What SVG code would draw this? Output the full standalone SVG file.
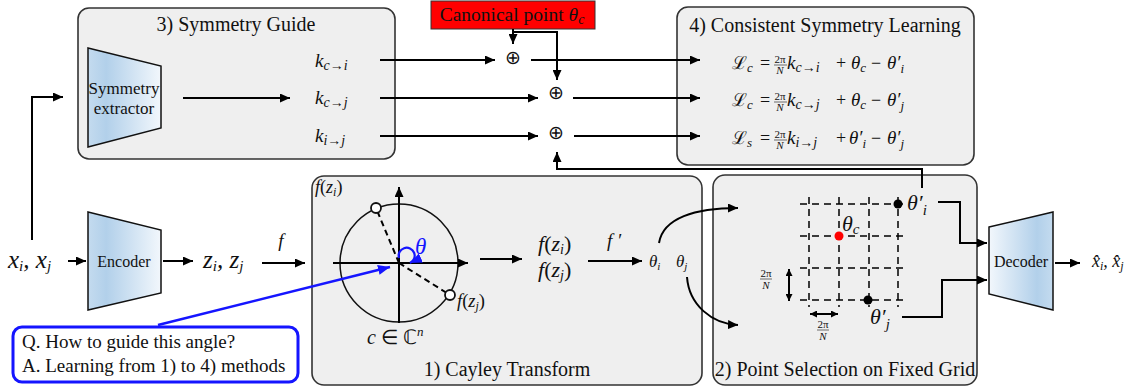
<svg xmlns="http://www.w3.org/2000/svg" width="1133" height="390" viewBox="0 0 1133 390">
<defs>
<marker id="ah" markerUnits="userSpaceOnUse" markerWidth="10" markerHeight="9" refX="10" refY="4.5" orient="auto-start-reverse"><path d="M0,0 L10,4.5 L0,9 z" fill="#000"/></marker>
<marker id="ahb" markerUnits="userSpaceOnUse" markerWidth="12" markerHeight="10" refX="12" refY="5" orient="auto"><path d="M0,0 L12,5 L0,10 z" fill="#1515ff"/></marker>
<marker id="ahs" markerUnits="userSpaceOnUse" markerWidth="7" markerHeight="7" refX="7" refY="3.5" orient="auto-start-reverse"><path d="M0,0 L7,3.5 L0,7 z" fill="#000"/></marker>
<linearGradient id="gEnc" x1="0" y1="0" x2="1" y2="0"><stop offset="0" stop-color="#c4dbef"/><stop offset="0.25" stop-color="#b2d0ea"/><stop offset="1" stop-color="#f2f7fc"/></linearGradient>
<linearGradient id="gDec" x1="0" y1="0" x2="1" y2="0"><stop offset="0" stop-color="#f2f7fc"/><stop offset="0.75" stop-color="#b2d0ea"/><stop offset="1" stop-color="#c4dbef"/></linearGradient>
</defs>
<style>
text{font-family:'Liberation Serif',serif;fill:#111}
.box{fill:#efefef;stroke:#333;stroke-width:1.6}
.trap{stroke:#111;stroke-width:1.5}
.title{font-size:20px;text-anchor:middle}
.i{font-style:italic}
.frac{font-size:11px;text-anchor:middle}
</style>
<rect width="1133" height="390" fill="#fff"/>

<g id="symmetry-guide">
<rect class="box" x="78" y="8" width="317" height="151" rx="11"/>
<text class="title" x="236" y="31">3) Symmetry Guide</text>
<polygon class="trap" points="88,48 161,66 161,128 88,147" fill="url(#gEnc)"/>
<text x="124" y="94" font-size="17" text-anchor="middle">Symmetry</text>
<text x="124" y="114" font-size="17" text-anchor="middle">extractor</text>
<text class="i" y="67" font-size="19"><tspan x="315">k</tspan><tspan font-size="14" dy="3">c→i</tspan></text>
<text class="i" y="104" font-size="19"><tspan x="315">k</tspan><tspan font-size="14" dy="3">c→j</tspan></text>
<text class="i" y="142" font-size="19"><tspan x="315">k</tspan><tspan font-size="14" dy="3">i→j</tspan></text>
</g>

<g id="canonical-point">
<rect x="431" y="1" width="164" height="28" fill="#ff0000" stroke="#333" stroke-width="1"/>
<text x="512" y="21" font-size="19.5" text-anchor="middle">Canonical point <tspan class="i">θ</tspan><tspan class="i" font-size="14" dy="3">c</tspan></text>
</g>

<g id="adders">
<text font-size="19" text-anchor="middle" x="513" y="64">⊕</text>
<text font-size="19" text-anchor="middle" x="556" y="99">⊕</text>
<text font-size="19" text-anchor="middle" x="556" y="139">⊕</text>
</g>

<g id="consistent-learning">
<rect class="box" x="677" y="7" width="297" height="158" rx="11"/>
<text class="title" x="825" y="32" font-size="21">4) Consistent Symmetry Learning</text>
<g id="eq1">
<text y="69" font-size="18"><tspan x="732">ℒ</tspan><tspan class="i" font-size="13" dy="3">c</tspan><tspan x="760" dy="-3">=</tspan><tspan x="787" class="i" font-size="19">k</tspan><tspan class="i" font-size="14" dy="3">c→i</tspan><tspan x="836" dy="-3">+</tspan><tspan x="851" class="i" font-size="19">θ</tspan><tspan class="i" font-size="13" dy="3">c</tspan><tspan x="871" dy="-3">−</tspan><tspan x="887" class="i" font-size="19">θ′</tspan><tspan class="i" font-size="13" dy="4">i</tspan></text>
<text class="frac" x="780" y="63">2π</text><line x1="774" y1="65" x2="787" y2="65" stroke="#111" stroke-width="0.6"/><text class="frac i" x="780" y="74">N</text>
</g>
<g id="eq2">
<text y="106" font-size="18"><tspan x="732">ℒ</tspan><tspan class="i" font-size="13" dy="3">c</tspan><tspan x="760" dy="-3">=</tspan><tspan x="787" class="i" font-size="19">k</tspan><tspan class="i" font-size="14" dy="3">c→j</tspan><tspan x="836" dy="-3">+</tspan><tspan x="851" class="i" font-size="19">θ</tspan><tspan class="i" font-size="13" dy="3">c</tspan><tspan x="871" dy="-3">−</tspan><tspan x="887" class="i" font-size="19">θ′</tspan><tspan class="i" font-size="13" dy="4">j</tspan></text>
<text class="frac" x="780" y="100">2π</text><line x1="774" y1="102" x2="787" y2="102" stroke="#111" stroke-width="0.6"/><text class="frac i" x="780" y="111">N</text>
</g>
<g id="eq3">
<text y="144" font-size="18"><tspan x="732">ℒ</tspan><tspan class="i" font-size="13" dy="3">s</tspan><tspan x="760" dy="-3">=</tspan><tspan x="787" class="i" font-size="19">k</tspan><tspan class="i" font-size="14" dy="3">i→j</tspan><tspan x="836" dy="-3">+</tspan><tspan x="849" class="i" font-size="19">θ′</tspan><tspan class="i" font-size="13" dy="4">i</tspan><tspan x="871" dy="-4">−</tspan><tspan x="887" class="i" font-size="19">θ′</tspan><tspan class="i" font-size="13" dy="4">j</tspan></text>
<text class="frac" x="780" y="138">2π</text><line x1="774" y1="140" x2="787" y2="140" stroke="#111" stroke-width="0.6"/><text class="frac i" x="780" y="149">N</text>
</g>
</g>

<g id="inputs">
<text class="i" x="8" y="268" font-size="25">x<tspan font-size="15" dy="3">i</tspan><tspan dy="-3">, x</tspan><tspan font-size="15" dy="3">j</tspan></text>
</g>

<g id="encoder">
<polygon class="trap" points="88,212 161,230 161,293 88,310" fill="url(#gEnc)"/>
<text x="124" y="267" font-size="16" text-anchor="middle">Encoder</text>
</g>

<g id="latent">
<text class="i" x="203" y="268" font-size="25">z<tspan font-size="15" dy="3">i</tspan><tspan dy="-3">, z</tspan><tspan font-size="15" dy="3">j</tspan></text>
<text class="i" x="281" y="247" font-size="19" text-anchor="middle">f</text>
</g>

<g id="cayley">
<rect class="box" x="312" y="176" width="390" height="209" rx="12"/>
<text class="title" x="507" y="376">1) Cayley Transform</text>
<text x="315" y="193" font-size="18"><tspan class="i">f</tspan>(<tspan class="i">z</tspan><tspan class="i" font-size="12" dy="3">i</tspan><tspan dy="-3">)</tspan></text>
<circle cx="399" cy="263" r="59" fill="none" stroke="#111" stroke-width="1.5"/>
<g fill="none" stroke="#000" stroke-width="2" marker-end="url(#ah)">
<line x1="333" y1="263" x2="468" y2="263"/>
<line x1="399" y1="323" x2="399" y2="187"/>
</g>
<g fill="none" stroke="#000" stroke-width="2" stroke-dasharray="6 4">
<line x1="399" y1="263" x2="376" y2="208"/>
<line x1="399" y1="263" x2="450" y2="295"/>
</g>
<circle cx="376" cy="208" r="5" fill="#fff" stroke="#111" stroke-width="1.8"/>
<circle cx="450" cy="295" r="5" fill="#fff" stroke="#111" stroke-width="1.8"/>
<path d="M399,258 A8,8 0 1 1 410,263" fill="none" stroke="#1515ff" stroke-width="2.2" marker-end="url(#ahb)"/>
<text class="i" x="415" y="254" font-size="23" style="fill:#1515ff">θ</text>
<text x="457" y="307" font-size="18.5"><tspan class="i">f</tspan>(<tspan class="i">z</tspan><tspan class="i" font-size="12" dy="3">j</tspan><tspan dy="-3">)</tspan></text>
<text x="367" y="344" font-size="20"><tspan class="i">c</tspan> ∈ ℂ<tspan class="i" font-size="13" dy="-8">n</tspan></text>
<text x="538" y="251" font-size="22"><tspan class="i">f</tspan>(<tspan class="i">z</tspan><tspan class="i" font-size="14" dy="3">i</tspan><tspan dy="-3">)</tspan></text>
<text x="538" y="277" font-size="22"><tspan class="i">f</tspan>(<tspan class="i">z</tspan><tspan class="i" font-size="14" dy="3">j</tspan><tspan dy="-3">)</tspan></text>
<text class="i" x="607" y="247" font-size="19">f ′</text>
<text class="i" x="649" y="267" font-size="17">θ<tspan font-size="11" dy="3">i</tspan></text>
<text class="i" x="676" y="267" font-size="17">θ<tspan font-size="11" dy="3">j</tspan></text>
</g>

<g id="point-selection">
<rect class="box" x="713" y="175" width="264" height="210" rx="12"/>
<text class="title" x="845" y="376" font-size="19.5">2) Point Selection on Fixed Grid</text>
<g id="grid" fill="none" stroke="#000" stroke-width="1.5" stroke-dasharray="7 5">
<line x1="800" y1="204" x2="903" y2="204"/>
<line x1="800" y1="236" x2="903" y2="236"/>
<line x1="800" y1="268" x2="903" y2="268"/>
<line x1="800" y1="300" x2="903" y2="300"/>
<line x1="809" y1="197" x2="809" y2="307"/>
<line x1="839" y1="197" x2="839" y2="307"/>
<line x1="869" y1="197" x2="869" y2="307"/>
<line x1="898" y1="197" x2="898" y2="307"/>
</g>
<circle cx="839" cy="236" r="4.5" fill="#ff0000"/>
<circle cx="898" cy="204" r="4.5" fill="#000"/>
<circle cx="868" cy="300" r="4.5" fill="#000"/>
<text class="i" x="842" y="231" font-size="22">θ<tspan font-size="15" dy="3">c</tspan></text>
<text class="i" x="907" y="210" font-size="22">θ′<tspan font-size="15" dy="5">i</tspan></text>
<text class="i" x="870" y="324" font-size="22">θ′<tspan font-size="15" dy="5">j</tspan></text>
<line x1="789" y1="269" x2="789" y2="301" stroke="#000" stroke-width="2" marker-start="url(#ahs)" marker-end="url(#ahs)"/>
<line x1="810" y1="314" x2="838" y2="314" stroke="#000" stroke-width="2" marker-start="url(#ahs)" marker-end="url(#ahs)"/>
<text class="frac" x="766" y="277" font-size="10">2π</text><line x1="760" y1="279" x2="772" y2="279" stroke="#111" stroke-width="0.6"/><text class="frac i" x="766" y="289" font-size="10">N</text>
<text class="frac" x="823" y="328" font-size="10">2π</text><line x1="817" y1="330" x2="829" y2="330" stroke="#111" stroke-width="0.6"/><text class="frac i" x="823" y="340" font-size="10">N</text>
</g>

<g id="decoder">
<polygon class="trap" points="989,227 1053,212 1053,310 989,294" fill="url(#gDec)"/>
<text x="1021" y="267" font-size="16" text-anchor="middle">Decoder</text>
</g>

<g id="outputs">
<text class="i" x="1092" y="267" font-size="18">x̂<tspan font-size="12" dy="3">i</tspan><tspan dy="-3">, x̂</tspan><tspan font-size="12" dy="3">j</tspan></text>
</g>

<g id="question">
<rect x="13" y="327" width="285" height="55" rx="9" fill="#fff" stroke="#1515ff" stroke-width="3"/>
<text x="22" y="348" font-size="19">Q. How to guide this angle?</text>
<text x="22" y="372" font-size="19">A. Learning from 1) to 4) methods</text>
</g>

<g id="connectors" fill="none" stroke="#000" stroke-width="2" marker-end="url(#ah)">
<path d="M32,240 V97 H63"/>
<line x1="183" y1="98" x2="290" y2="98"/>
<line x1="380" y1="60" x2="495" y2="60"/>
<line x1="380" y1="98" x2="538" y2="98"/>
<line x1="380" y1="136" x2="538" y2="136"/>
<line x1="531" y1="60" x2="700" y2="60"/>
<line x1="573" y1="98" x2="700" y2="98"/>
<line x1="574" y1="136" x2="700" y2="136"/>
<line x1="513" y1="29" x2="513" y2="44"/>
<path d="M513,32 H557 V80"/>
<path d="M922,188 V169 H557 V152"/>
<line x1="68" y1="261" x2="86" y2="261"/>
<line x1="163" y1="261" x2="193" y2="261"/>
<line x1="262" y1="263" x2="305" y2="263"/>
<line x1="480" y1="259" x2="522" y2="259"/>
<line x1="588" y1="261" x2="642" y2="261"/>
<path d="M659,243 C663,218 695,208 738,208"/>
<path d="M687,277 C689,305 712,324 738,325"/>
<path d="M938,202 H960 V243 H987"/>
<path d="M902,317 H942 V280 H987"/>
<line x1="1055" y1="263" x2="1080" y2="263"/>
<line x1="158" y1="325" x2="390" y2="267" stroke="#1515ff" stroke-width="2.5" marker-end="url(#ahb)"/>
</g>
</svg>
